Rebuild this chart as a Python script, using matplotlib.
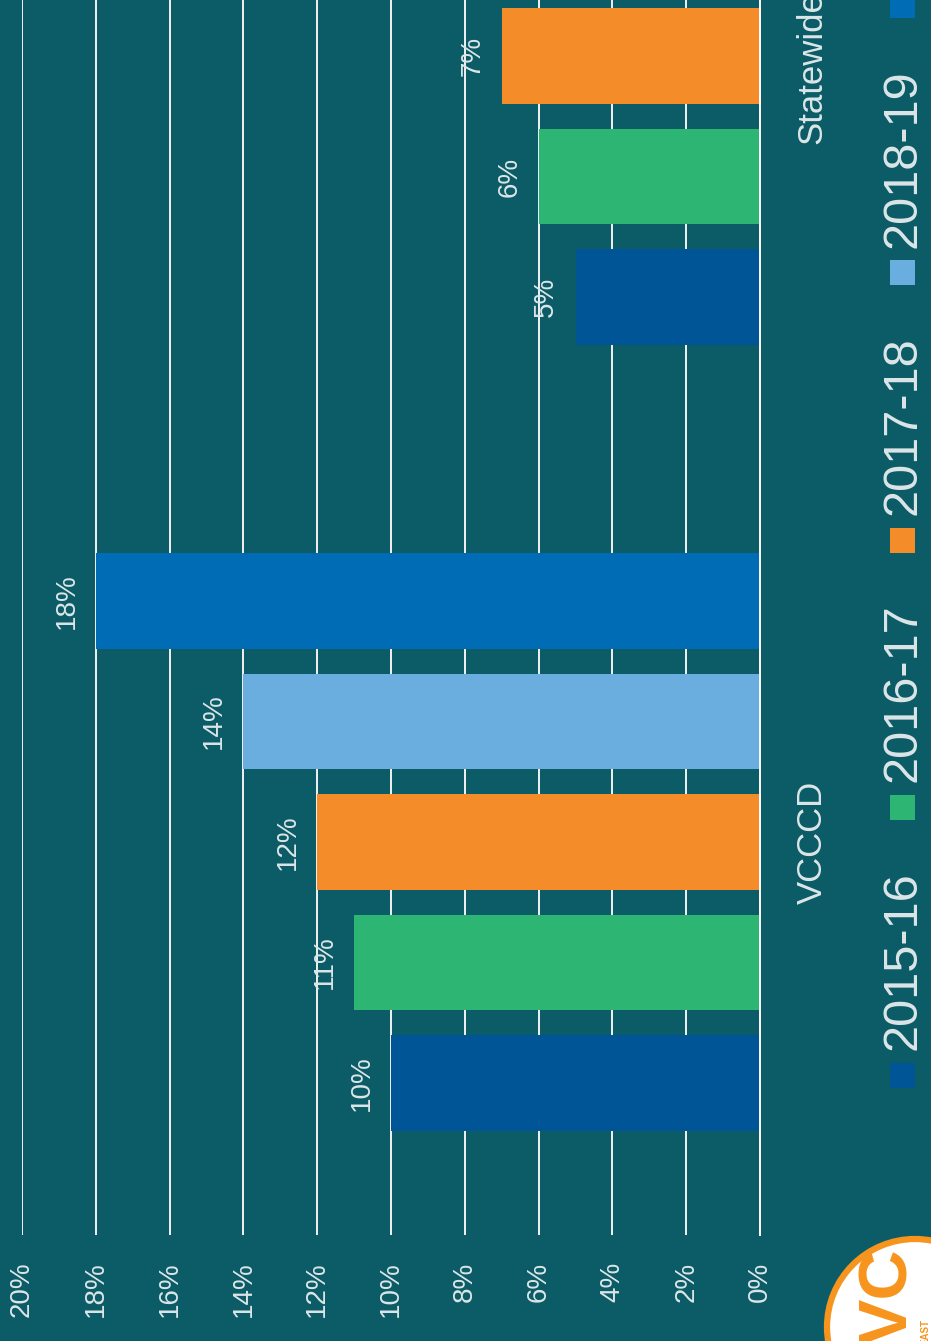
import numpy as np
import matplotlib
matplotlib.use('Agg')
from matplotlib import pyplot as plt
from matplotlib.patches import Circle, Rectangle
from matplotlib.transforms import blended_transform_factory

plt.rcParams['font.family'] = ['Liberation Sans', 'DejaVu Sans']

categories = ['VCCCD', 'Statewide']
years = ['2015-16', '2016-17', '2017-18', '2018-19', '2019-20']
colors = ['#005596', '#2db573', '#f58c2a', '#6aaddf', '#006cb5']
# rows = years, columns = categories (statewide 2018-19/2019-20 are cut off in the picture)
values = [[10, 5], [11, 6], [12, 7], [14, np.nan], [18, np.nan]]
xticks = list(range(0, 21, 2))

bg = '#0b5c66'
txt = '#dce6e8'

fig = plt.figure(figsize=(9.31, 13.41), dpi=100, facecolor=bg)
W, H = 931, 1341
ax = fig.add_axes([22/W, (H-1235)/H, (760-22)/W, 1235/H])
ax.set_facecolor(bg)

step = 0.1533
barh = 0.121
ycat = np.arange(len(categories))
for i, yr in enumerate(years):
    pos = ycat + (i-2)*step
    v = np.array(values[i], dtype=float)
    ax.barh(pos, v, height=barh, color=colors[i], zorder=3, edgecolor='none')
    for p, val in zip(pos, v):
        if np.isnan(val):
            continue
        ax.annotate('%d%%' % val, (val, p), xytext=(-21, 0), textcoords='offset points',
                    rotation=90, ha='center', va='center', color=txt, fontsize=20, zorder=4)

ax.set_xlim(20, 0)
ax.set_ylim(-0.5, 1.0712)
ax.set_xticks(xticks)
ax.set_xticklabels(['%d%%' % t for t in xticks])
ax.set_yticks([])
ax.grid(axis='x', color='#f2f2f2', lw=1.4, zorder=1)
ax.tick_params(axis='x', length=0, pad=19, labelrotation=90, labelsize=20, labelcolor=txt)
for s in ['top', 'left', 'bottom']:
    ax.spines[s].set_visible(False)
ax.spines['right'].set_color('white')
ax.spines['right'].set_linewidth(1.4)
ax.spines['right'].set_zorder(5)

tr = blended_transform_factory(ax.transAxes, ax.transData)
for c, name in enumerate(categories):
    ax.text(1.0705, c - 0.015*c, name, transform=tr, rotation=90, ha='center', va='center',
            color=txt, fontsize=25, clip_on=False)

# legend, drawn by hand as the whole chart is turned on its side
for i, yr in enumerate(years):
    yc = 1075 - i*267.5
    fig.add_artist(Rectangle(((890)/W, (H-yc-12.5)/H), 25/W, 25/H, transform=fig.transFigure,
                             facecolor=colors[i], edgecolor='none'))
    fig.text(903/W, (H-yc+25)/H, yr, rotation=90, rotation_mode='anchor', ha='left', va='center',
             color=txt, fontsize=35)

# logo in the corner
lax = fig.add_axes([815/W, (H-1327-100)/H, 200/W, 200/H])
lax.set_xlim(-1, 1)
lax.set_ylim(-1, 1)
lax.axis('off')
lax.add_patch(Circle((0, 0), 0.88, facecolor='white', edgecolor='#f7941d', lw=4.5))
lax.text(-0.26, 0.3, 'VC', rotation=90, ha='center', va='center', color='#f7941d',
         fontsize=50, fontweight='bold')
lax.text(0.1, -0.05, 'EAST', rotation=90, ha='center', va='center', color='#f7941d',
         fontsize=7, fontweight='bold')

fig.savefig('out.png', dpi=100, facecolor=bg)
